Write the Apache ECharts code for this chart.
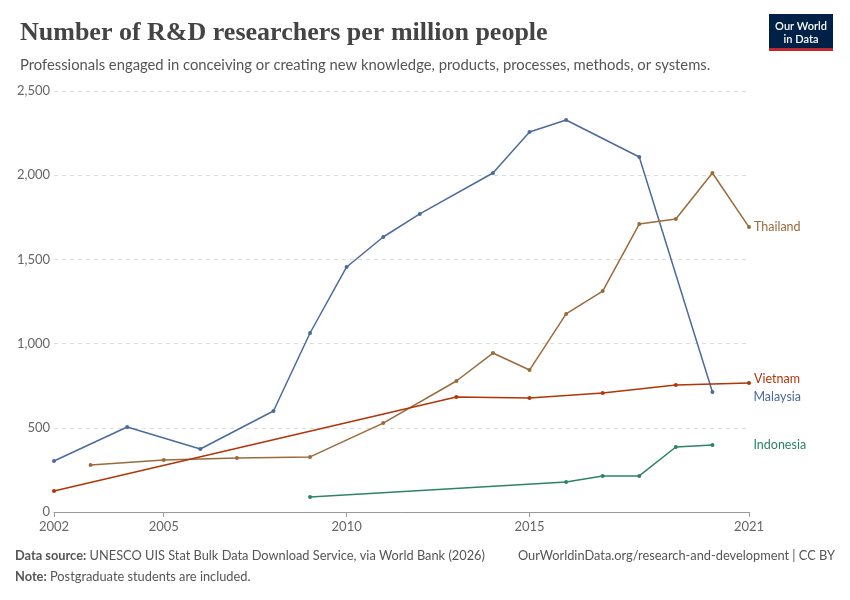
<!DOCTYPE html>
<html><head><meta charset="utf-8">
<script src="https://cdn.jsdelivr.net/npm/echarts@6/dist/echarts.min.js"></script>
<style>body{margin:0}#c{width:850px;height:600px}</style></head>
<body><div id="c"></div>
<script>
const xTicks=[2002,2005,2010,2015,2021];
const malaysia=[[2002,303],[2004,505],[2006,374],[2008,600],[2009,1063],[2010,1455],[2011,1633],[2012,1770],[2014,2013],[2015,2257],[2016,2328],[2018,2108],[2020,713]];
const thailand=[[2003,279],[2005,309],[2007,321],[2009,327],[2011,528],[2013,778],[2014,944],[2015,843],[2016,1176],[2017,1312],[2018,1710],[2019,1740],[2020,2013],[2021,1692]];
const vietnam=[[2002,125],[2013,683],[2015,677],[2017,707],[2019,754],[2021,766]];
const indonesia=[[2009,89],[2016,178],[2017,214],[2018,214],[2019,386],[2020,398]];
const F='Lato, "Noto Sans", sans-serif';
function s(name,data,color,off){return {name,type:'line',data,symbol:'circle',symbolSize:4,
 lineStyle:{width:1.5,color},itemStyle:{color},
 endLabel:{show:true,formatter:name,color,fontFamily:F,fontSize:12.5,offset:off,align:'left'}};}
const ch=echarts.init(document.getElementById('c'));
ch.setOption({
 animation:false,
 grid:{left:54,right:101,top:91,bottom:88},
 title:[{text:'Number of R&D researchers per million people',left:15,top:15,textStyle:{fontFamily:'"Liberation Serif", serif',fontWeight:'bold',fontSize:26,color:'#444'}},
  {text:'Professionals engaged in conceiving or creating new knowledge, products, processes, methods, or systems.',left:15,top:53,textStyle:{fontFamily:F,fontWeight:'normal',fontSize:14.8,color:'#555'}}],
 graphic:[
  {type:'rect',shape:{x:769,y:14,width:64,height:34},style:{fill:'#002147'}},
  {type:'rect',shape:{x:769,y:48,width:64,height:3},style:{fill:'#c0282f'}},
  {type:'text',style:{x:801,y:20,text:'Our World\nin Data',fill:'#fff',font:'600 11px '+F,align:'center',lineHeight:13}},
  {type:'text',style:{x:15,y:549,text:'{b|Data source:} UNESCO UIS Stat Bulk Data Download Service, via World Bank (2026)',rich:{b:{fontWeight:'bold',fill:'#555',fontFamily:F,fontSize:12.8}},fill:'#555',font:'12.8px '+F}},
  {type:'text',style:{x:835,y:549,text:'OurWorldinData.org/research-and-development | CC BY',fill:'#555',font:'12.8px '+F,align:'right'}},
  {type:'text',style:{x:15,y:570,text:'{b|Note:} Postgraduate students are included.',rich:{b:{fontWeight:'bold',fill:'#555',fontFamily:F,fontSize:12.8}},fill:'#555',font:'12.8px '+F}}
 ],
 xAxis:{type:'value',min:2002,max:2021,interval:1,
  axisLine:{lineStyle:{color:'#999'}},axisTick:{show:true,lineStyle:{color:'#999'},length:5,customValues:xTicks},
  axisLabel:{customValues:xTicks,color:'#666',fontFamily:F,fontSize:13,formatter:v=>xTicks.includes(v)?String(v):''},
  splitLine:{show:false}},
 yAxis:{type:'value',min:0,max:2500,interval:500,
  axisLabel:{color:'#666',fontFamily:F,fontSize:13,formatter:v=>v.toLocaleString('en-US'),margin:4,align:'right'},
  axisLine:{show:false},axisTick:{show:false},
  splitLine:{lineStyle:{type:[4,4],color:'#ddd'}}},
 series:[s('Malaysia',malaysia,'#4c6a9c',[33,5]),s('Thailand',thailand,'#9a6b3a',[-3,0]),
  s('Vietnam',vietnam,'#b13507',[-3,-4]),s('Indonesia',indonesia,'#2c8465',[33,0])]
});
</script></body></html>
